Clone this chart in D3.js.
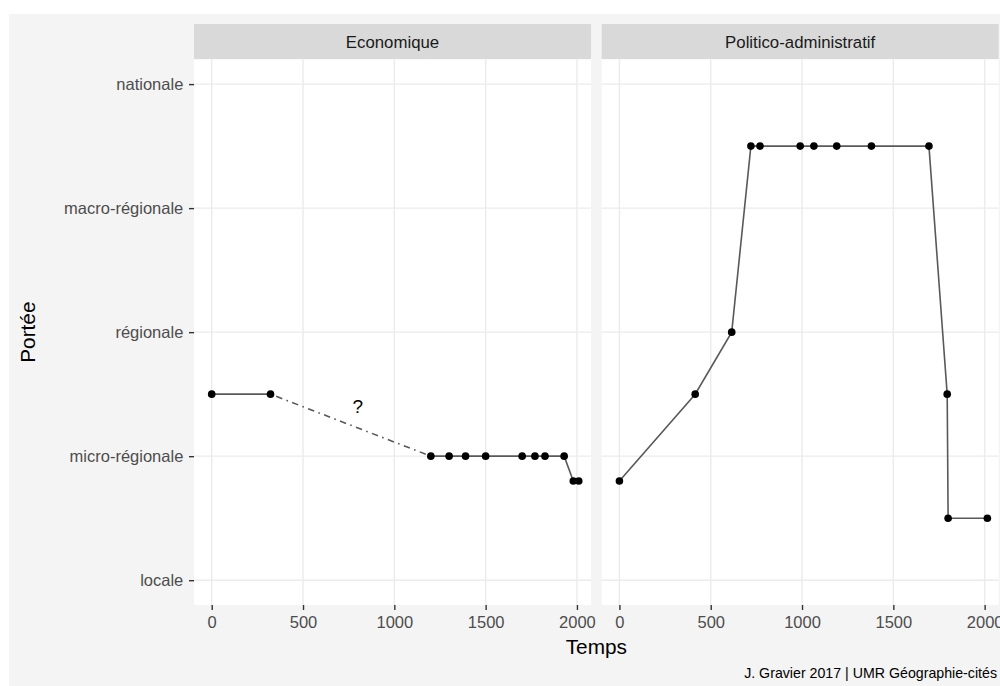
<!DOCTYPE html>
<html>
<head>
<meta charset="utf-8">
<script src="https://cdn.jsdelivr.net/npm/d3@7"></script>
<style>
  body { margin: 0; background: #fff; }
  svg { display: block; font-family: "Liberation Sans", Arial, sans-serif; }
</style>
</head>
<body>
<svg id="chart" width="1000" height="686"></svg>
<script>
// levels of "Portée", locale = 1 ... nationale = 5
const levels = ["locale", "micro-régionale", "régionale", "macro-régionale", "nationale"];
const levelTicks = [1, 2, 3, 4, 5];
const timeTicks = [0, 500, 1000, 1500, 2000];
const facets = ["Economique", "Politico-administratif"];

// Economique
const ecoTemps = [0, 322, 1200, 1300, 1390, 1500, 1700, 1770, 1825, 1930, 1980, 2010];
const ecoPortee = [2.5, 2.5, 2, 2, 2, 2, 2, 2, 2, 2, 1.8, 1.8];
const ecoUncertain = [1, 2]; // indices joined by the dot-dash segment

// Politico-administratif
const polTemps = [0, 415, 615, 720, 770, 990, 1065, 1190, 1380, 1695, 1795, 1800, 2015];
const polPortee = [1.8, 2.5, 3, 4.5, 4.5, 4.5, 4.5, 4.5, 4.5, 4.5, 2.5, 1.5, 1.5];

const questionMark = [800, 2.4];

const svg = d3.select("#chart");
const W = 1000, H = 686;

const stripTop = 24, panelTop = 59.3, panelBottom = 605;
const panels = [
  { name: facets[0], x0: 194, x1: 591, t: ecoTemps, p: ecoPortee, gap: ecoUncertain },
  { name: facets[1], x0: 601.7, x1: 998.7, t: polTemps, p: polPortee, gap: null }
];

const lineCol = "#595959";
const tickCol = "#4d4d4d";

// plot background
svg.append("rect")
  .attr("x", 9).attr("y", 14)
  .attr("width", W - 9).attr("height", H - 14)
  .attr("fill", "#f4f4f4");

const y = d3.scaleLinear().domain([0.8, 5.2]).range([panelBottom, panelTop]);

panels.forEach((pn, k) => {
  const x = d3.scaleLinear().domain([-97, 2077]).range([pn.x0, pn.x1]);
  const g = svg.append("g");

  // strip
  g.append("rect")
    .attr("x", pn.x0).attr("y", stripTop)
    .attr("width", pn.x1 - pn.x0).attr("height", panelTop - stripTop)
    .attr("fill", "#d9d9d9");
  g.append("text")
    .attr("x", (pn.x0 + pn.x1) / 2).attr("y", (stripTop + panelTop) / 2)
    .attr("dy", "0.35em")
    .attr("text-anchor", "middle")
    .attr("font-size", "16.8px")
    .attr("fill", "#1a1a1a")
    .text(pn.name);

  // panel
  g.append("rect")
    .attr("x", pn.x0).attr("y", panelTop)
    .attr("width", pn.x1 - pn.x0).attr("height", panelBottom - panelTop)
    .attr("fill", "#ffffff");

  g.selectAll(".vgrid").data(timeTicks).enter().append("line")
    .attr("x1", d => x(d)).attr("x2", d => x(d))
    .attr("y1", panelTop).attr("y2", panelBottom)
    .attr("stroke", "#ebebeb").attr("stroke-width", 1.4);
  g.selectAll(".hgrid").data(levelTicks).enter().append("line")
    .attr("x1", pn.x0).attr("x2", pn.x1)
    .attr("y1", d => y(d)).attr("y2", d => y(d))
    .attr("stroke", "#ebebeb").attr("stroke-width", 1.4);

  // lines
  const pts = pn.t.map((t, i) => [t, pn.p[i]]);
  const line = d3.line().x(d => x(d[0])).y(d => y(d[1]));
  let pieces = [pts];
  if (pn.gap) {
    pieces = [pts.slice(0, pn.gap[0] + 1), pts.slice(pn.gap[1])];
    g.append("path")
      .datum([pts[pn.gap[0]], pts[pn.gap[1]]])
      .attr("fill", "none")
      .attr("stroke", lineCol)
      .attr("stroke-width", 1.6)
      .attr("stroke-dasharray", "1.6,4.5,6.5,4.5")
      .attr("d", line);
  }
  pieces.forEach(pc => {
    g.append("path")
      .datum(pc)
      .attr("fill", "none")
      .attr("stroke", lineCol)
      .attr("stroke-width", 1.6)
      .attr("d", line);
  });

  g.selectAll("circle").data(pts).enter().append("circle")
    .attr("cx", d => x(d[0])).attr("cy", d => y(d[1]))
    .attr("r", 3.8).attr("fill", "#000");

  if (k === 0) {
    g.append("text")
      .attr("x", x(questionMark[0])).attr("y", y(questionMark[1]))
      .attr("dy", "0.36em")
      .attr("text-anchor", "middle")
      .attr("font-size", "19px")
      .attr("fill", "#000")
      .text("?");
  }

  // x axis
  const ax = g.append("g")
    .attr("transform", `translate(0,${panelBottom})`)
    .call(d3.axisBottom(x).tickValues(timeTicks).tickSize(5).tickPadding(5.8).tickFormat(d3.format("d")));
  ax.select(".domain").remove();
  ax.selectAll("line").attr("stroke", "#333333").attr("stroke-width", 1.4);
  ax.selectAll("text").attr("font-size", "16.5px").attr("fill", tickCol).attr("font-family", null);

  if (k === 0) {
    const ay = g.append("g")
      .attr("transform", `translate(${pn.x0},0)`)
      .call(d3.axisLeft(y).tickValues(levelTicks).tickSize(5).tickPadding(5.7).tickFormat(d => levels[d - 1]));
    ay.select(".domain").remove();
    ay.selectAll("line").attr("stroke", "#333333").attr("stroke-width", 1.4);
    ay.selectAll("text").attr("font-size", "16.5px").attr("fill", tickCol).attr("font-family", null);
  }
});

// axis titles
svg.append("text")
  .attr("x", (194 + 998.7) / 2).attr("y", 654)
  .attr("text-anchor", "middle")
  .attr("font-size", "20.8px")
  .attr("fill", "#000")
  .text("Temps");

svg.append("text")
  .attr("transform", `translate(35,${(panelTop + panelBottom) / 2}) rotate(-90)`)
  .attr("text-anchor", "middle")
  .attr("font-size", "20.8px")
  .attr("fill", "#000")
  .text("Portée");

// caption
svg.append("text")
  .attr("x", 997).attr("y", 678)
  .attr("text-anchor", "end")
  .attr("font-size", "14.2px")
  .attr("fill", "#000")
  .text("J. Gravier 2017 | UMR Géographie-cités");
</script>
</body>
</html>
